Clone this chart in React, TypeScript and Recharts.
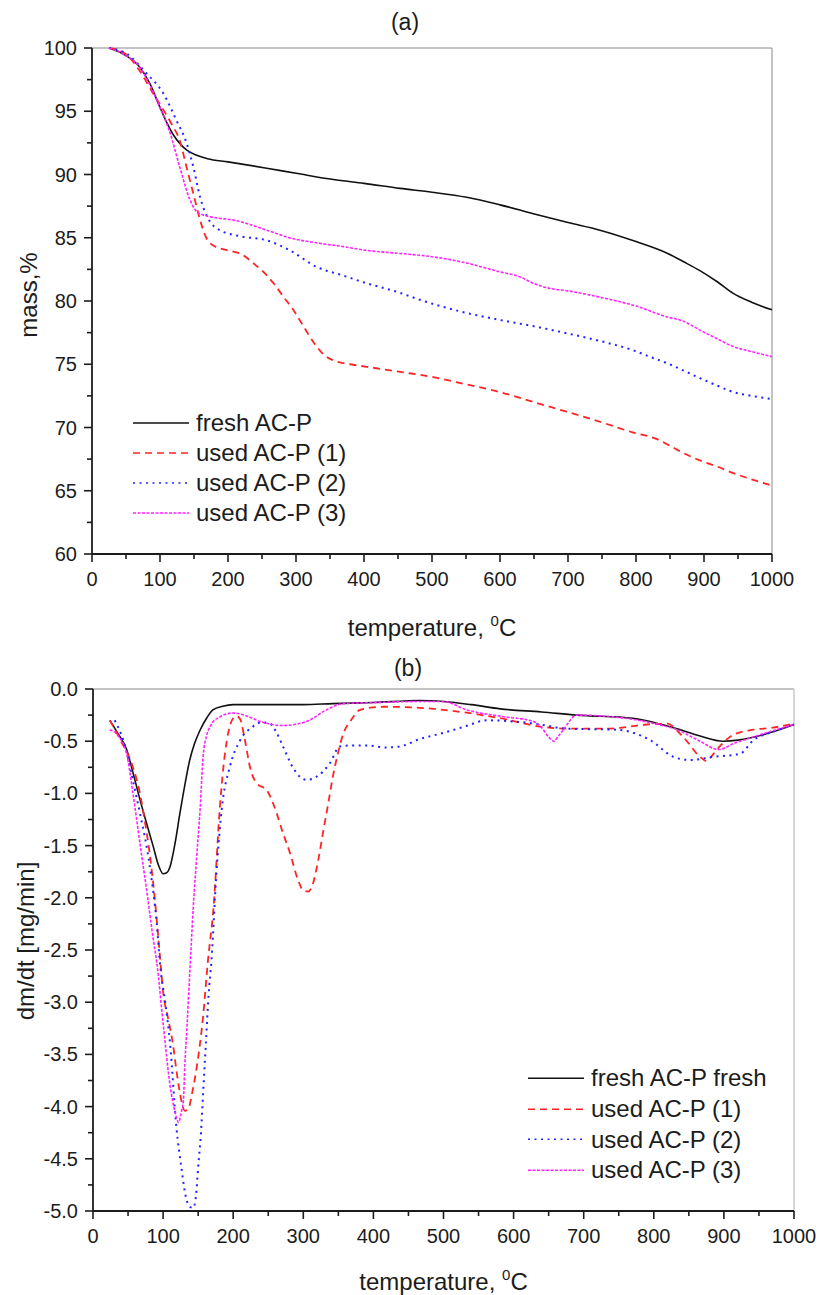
import { LineChart, Line, XAxis, YAxis, ReferenceLine, Legend, Label } from "recharts";

type Pt = [number, number];

// ---- (a) mass loss, % ----
const freshTga: Pt[] = [
  [25, 100], [50, 99.4], [70, 98.5], [85, 97.2], [100, 95.3], [110, 94.1], [120, 93.1], [130, 92.4],
  [140, 91.9], [155, 91.5], [170, 91.25], [200, 91.0], [257, 90.5], [300, 90.1], [355, 89.6], [400, 89.3],
  [453, 88.9], [500, 88.6], [551, 88.2], [600, 87.6], [649, 86.9], [700, 86.2], [747, 85.6], [800, 84.7],
  [845, 83.8], [870, 83.1], [894, 82.4], [920, 81.5], [943, 80.6], [970, 79.9], [1000, 79.3],
];
const used1Tga: Pt[] = [
  [25, 100], [50, 99.5], [70, 98.2], [90, 96.4], [105, 95.1], [118, 93.9], [129, 92.7], [139, 90.6],
  [149, 88.5], [159, 86.4], [168, 85.0], [178, 84.4], [200, 84.0], [220, 83.7], [237, 83.0], [252, 82.3],
  [267, 81.4], [282, 80.3], [296, 79.3], [311, 78.0], [325, 76.8], [340, 75.8], [355, 75.3], [380, 75.0],
  [404, 74.8], [453, 74.4], [500, 74.0], [551, 73.4], [600, 72.8], [650, 72.0], [698, 71.25], [750, 70.4],
  [796, 69.6], [830, 69.1], [845, 68.7], [869, 68.0], [894, 67.4], [920, 66.9], [943, 66.4], [970, 65.9],
  [1000, 65.4],
];
const used2Tga: Pt[] = [
  [25, 100], [51, 99.55], [80, 98.0], [105, 96.4], [124, 94.3], [139, 92.5], [149, 90.6], [159, 88.2],
  [169, 86.7], [188, 85.6], [220, 85.1], [257, 84.8], [291, 84.0], [330, 82.7], [370, 82.0], [404, 81.4],
  [450, 80.7], [482, 80.1], [540, 79.2], [600, 78.5], [650, 78.0], [698, 77.45], [750, 76.8], [796, 76.1],
  [820, 75.6], [845, 75.1], [870, 74.5], [894, 73.9], [920, 73.3], [943, 72.8], [970, 72.5], [1000, 72.25],
];
const used3Tga: Pt[] = [
  [25, 100], [50, 99.4], [70, 98.5], [85, 97.1], [100, 95.3], [115, 93.25], [129, 90.6], [144, 88.0],
  [152, 87.2], [159, 86.9], [180, 86.6], [208, 86.4], [257, 85.6], [290, 85.0], [330, 84.6], [370, 84.3],
  [404, 84.0], [453, 83.76], [500, 83.5], [551, 83.0], [600, 82.3], [630, 81.9], [649, 81.4], [673, 81.0],
  [700, 80.8], [747, 80.3], [800, 79.6], [845, 78.75], [870, 78.4], [894, 77.7], [920, 77.0], [943, 76.4],
  [970, 76.0], [1000, 75.6],
];

// ---- (b) dm/dt, mg/min ----
const freshDtg: Pt[] = [
  [24, -0.3], [35, -0.42], [48, -0.58], [57, -0.8], [67, -1.06], [77, -1.3], [86, -1.51], [93, -1.68],
  [100, -1.77], [105, -1.76], [110, -1.7], [117, -1.48], [124, -1.19], [131, -0.92], [138, -0.68],
  [145, -0.52], [153, -0.39], [162, -0.28], [171, -0.2], [185, -0.165], [200, -0.15], [250, -0.15],
  [300, -0.15], [342, -0.14], [400, -0.13], [466, -0.11], [500, -0.12], [540, -0.15], [581, -0.19],
  [640, -0.22], [690, -0.25], [770, -0.28], [800, -0.32], [833, -0.38], [866, -0.45], [899, -0.5],
  [920, -0.49], [937, -0.47], [970, -0.41], [1000, -0.34],
];
const used1Dtg: Pt[] = [
  [24, -0.3], [40, -0.5], [57, -0.75], [67, -1.0], [72, -1.19], [81, -1.58], [88, -2.0], [96, -2.6],
  [100, -2.9], [107, -3.15], [114, -3.4], [120, -3.7], [126, -3.94], [131, -4.04], [136, -4.02],
  [142, -3.85], [148, -3.62], [157, -3.14], [164, -2.6], [172, -2.09], [181, -1.13], [186, -0.75],
  [191, -0.49], [200, -0.28], [205, -0.26], [210, -0.29], [217, -0.5], [224, -0.75], [233, -0.9],
  [248, -0.97], [262, -1.19], [271, -1.38], [281, -1.57], [292, -1.82], [300, -1.93], [307, -1.94],
  [314, -1.86], [321, -1.65], [328, -1.38], [336, -1.08], [343, -0.81], [350, -0.6], [357, -0.43],
  [368, -0.3], [381, -0.2], [414, -0.17], [466, -0.18], [500, -0.2], [581, -0.28], [638, -0.36],
  [676, -0.38], [733, -0.38], [790, -0.34], [818, -0.33], [842, -0.46], [866, -0.65], [875, -0.69],
  [884, -0.63], [894, -0.55], [913, -0.44], [942, -0.39], [970, -0.37], [1000, -0.33],
];
const used2Dtg: Pt[] = [
  [31, -0.3], [48, -0.6], [57, -0.88], [67, -1.19], [81, -1.7], [91, -2.25], [96, -2.66], [103, -3.0],
  [110, -3.4], [119, -4.2], [126, -4.58], [132, -4.85], [138, -4.96], [143, -4.97], [147, -4.85],
  [150, -4.58], [154, -4.25], [157, -3.88], [161, -3.4], [165, -2.92], [169, -2.6], [176, -1.77],
  [184, -1.13], [195, -0.75], [210, -0.49], [228, -0.36], [240, -0.32], [252, -0.33], [262, -0.42],
  [271, -0.55], [285, -0.75], [295, -0.84], [305, -0.87], [319, -0.84], [338, -0.71], [352, -0.55],
  [371, -0.54], [390, -0.54], [419, -0.56], [438, -0.55], [466, -0.48], [500, -0.42], [530, -0.36],
  [562, -0.3], [628, -0.33], [676, -0.38], [747, -0.39], [795, -0.49], [828, -0.65], [851, -0.68],
  [885, -0.65], [923, -0.62], [942, -0.49], [970, -0.41], [1000, -0.34],
];
const used3Dtg: Pt[] = [
  [24, -0.39], [36, -0.45], [48, -0.62], [57, -1.0], [67, -1.48], [77, -1.95], [86, -2.4], [91, -2.62],
  [100, -3.2], [110, -3.8], [117, -4.05], [122, -4.15], [126, -4.05], [129, -3.94], [131, -3.6],
  [134, -3.24], [139, -2.6], [143, -2.09], [148, -1.6], [153, -1.13], [157, -0.65], [162, -0.45],
  [167, -0.36], [180, -0.27], [200, -0.23], [220, -0.26], [238, -0.31], [271, -0.35], [305, -0.31],
  [333, -0.2], [357, -0.14], [400, -0.13], [466, -0.12], [500, -0.12], [533, -0.2], [580, -0.26],
  [628, -0.31], [640, -0.37], [650, -0.46], [657, -0.5], [664, -0.45], [671, -0.39], [690, -0.25],
  [747, -0.27], [800, -0.33], [833, -0.39], [866, -0.5], [892, -0.58], [915, -0.52], [937, -0.47],
  [970, -0.4], [1000, -0.34],
];

const tempTicks = [
  0, 50, 100, 150, 200, 250, 300, 350, 400, 450, 500, 550, 600, 650, 700, 750, 800, 850, 900, 950, 1000,
];
const massTicks = [60, 62.5, 65, 67.5, 70, 72.5, 75, 77.5, 80, 82.5, 85, 87.5, 90, 92.5, 95, 97.5, 100];
const dtgTicks = [
  -5, -4.75, -4.5, -4.25, -4, -3.75, -3.5, -3.25, -3, -2.75, -2.5, -2.25, -2, -1.75, -1.5, -1.25, -1,
  -0.75, -0.5, -0.25, 0,
];

const namesA = ["fresh AC-P", "used AC-P (1)", "used AC-P (2)", "used AC-P (3)"];
const namesB = ["fresh AC-P fresh", "used AC-P (1)", "used AC-P (2)", "used AC-P (3)"];

const styles = [
  { color: "#111111", dash: undefined as string | undefined, width: 1.6 },
  { color: "#ff2424", dash: "7 5", width: 1.8 },
  { color: "#2222ff", dash: "2 4.5", width: 2 },
  { color: "#ff22ff", dash: "3 1.5", width: 1.6 },
];

const FONT = "'Liberation Sans', Arial, sans-serif";
const INK = "#1c1c1c";

const toRows = (pts: Pt[]) => pts.map(([t, v]) => ({ t, v }));
const isMult = (v: number, step: number) => Math.abs(v / step - Math.round(v / step)) < 1e-6;

function XTick(props: any) {
  const { x, y, payload } = props;
  const major = isMult(payload.value, 100);
  return (
    <g>
      <line x1={x} y1={y} x2={x} y2={y + (major ? 8 : 5)} stroke={INK} strokeWidth={1.6} />
      {major && (
        <text x={x} y={y + 32} textAnchor="middle" fontSize={20} fill={INK} fontFamily={FONT}>
          {payload.value}
        </text>
      )}
    </g>
  );
}

function makeYTick(step: number, fmt: (v: number) => string) {
  return (props: any) => {
    const { x, y, payload } = props;
    const major = isMult(payload.value, step);
    return (
      <g>
        <line x1={x} y1={y} x2={x - (major ? 8 : 5)} y2={y} stroke={INK} strokeWidth={1.6} />
        {major && (
          <text x={x - 15} y={y + 7} textAnchor="end" fontSize={20} fill={INK} fontFamily={FONT}>
            {fmt(payload.value)}
          </text>
        )}
      </g>
    );
  };
}

function xTitle(dy: number) {
  return (props: any) => {
    const vb = props.viewBox;
    return (
      <text x={vb.x + vb.width / 2} y={vb.y + dy} textAnchor="middle" fontSize={24} fill={INK} fontFamily={FONT}>
        temperature,{" "}
        <tspan fontSize={15} dy={-10}>0</tspan>
        <tspan dy={10}>C</tspan>
      </text>
    );
  };
}

function yTitle(text: string, dx: number, dy: number) {
  return (props: any) => {
    const vb = props.viewBox;
    const cx = vb.x + vb.width - dx;
    const cy = vb.y + vb.height / 2 + dy;
    return (
      <text
        x={cx}
        y={cy}
        transform={`rotate(-90 ${cx} ${cy})`}
        textAnchor="middle"
        dominantBaseline="central"
        fontSize={24}
        fill={INK}
        fontFamily={FONT}
      >
        {text}
      </text>
    );
  };
}

function LegendBox({ names, rowH }: { names: string[]; rowH: number }) {
  return (
    <div style={{ fontFamily: FONT, fontSize: 24, color: INK }}>
      {names.map((n, i) => (
        <div key={n} style={{ display: "flex", alignItems: "center", height: rowH }}>
          <svg width={56} height={rowH}>
            <line
              x1={0}
              y1={rowH / 2}
              x2={56}
              y2={rowH / 2}
              stroke={styles[i].color}
              strokeWidth={1.5}
              strokeDasharray={styles[i].dash}
            />
          </svg>
          <span style={{ marginLeft: 7, whiteSpace: "nowrap" }}>{n}</span>
        </div>
      ))}
    </div>
  );
}

const axisLine = { stroke: INK, strokeWidth: 1.8 };

export default function App() {
  const tga = [freshTga, used1Tga, used2Tga, used3Tga];
  const dtg = [freshDtg, used1Dtg, used2Dtg, used3Dtg];

  return (
    <div
      style={{
        position: "absolute",
        left: 0,
        top: 0,
        width: 819,
        height: 1295,
        background: "#fff",
        fontFamily: FONT,
      }}
    >
      <div style={{ position: "absolute", left: 355, top: 9, width: 100, textAlign: "center", fontSize: 23, color: INK }}>
        (a)
      </div>
      <div style={{ position: "absolute", left: 0, top: 0 }}>
        <LineChart width={819} height={650} margin={{ top: 48, right: 47, left: 32, bottom: 6 }}>
          <XAxis
            type="number"
            dataKey="t"
            domain={[0, 1000]}
            ticks={tempTicks}
            interval={0}
            height={90}
            tickSize={0}
            tickMargin={0}
            tickLine={false}
            axisLine={axisLine}
            tick={<XTick />}
          >
            <Label content={xTitle(82)} />
          </XAxis>
          <YAxis
            type="number"
            domain={[60, 100]}
            ticks={massTicks}
            interval={0}
            width={60}
            tickSize={0}
            tickMargin={0}
            tickLine={false}
            axisLine={axisLine}
            tick={makeYTick(5, (v) => String(v))}
          >
            <Label content={yTitle("mass,%", 64, -6)} />
          </YAxis>
          <ReferenceLine y={100} stroke="#b0b0b0" strokeWidth={1.5} />
          <ReferenceLine x={1000} stroke="#b0b0b0" strokeWidth={1.5} />
          {tga.map((pts, i) => (
            <Line
              key={namesA[i]}
              name={namesA[i]}
              data={toRows(pts)}
              dataKey="v"
              type="monotone"
              stroke={styles[i].color}
              strokeWidth={styles[i].width}
              strokeDasharray={styles[i].dash}
              dot={false}
              activeDot={false}
              isAnimationActive={false}
            />
          ))}
          <Legend
            layout="vertical"
            align="center"
            verticalAlign="middle"
            wrapperStyle={{ left: 133, top: 408, width: "auto" }}
            content={() => <LegendBox names={namesA} rowH={30} />}
          />
        </LineChart>
      </div>

      <div style={{ position: "absolute", left: 358, top: 655, width: 100, textAlign: "center", fontSize: 23, color: INK }}>
        (b)
      </div>
      <div style={{ position: "absolute", left: 0, top: 650 }}>
        <LineChart width={819} height={645} margin={{ top: 39, right: 25, left: 33, bottom: 0 }}>
          <XAxis
            type="number"
            dataKey="t"
            domain={[0, 1000]}
            ticks={tempTicks}
            interval={0}
            height={84}
            tickSize={0}
            tickMargin={0}
            tickLine={false}
            axisLine={axisLine}
            tick={<XTick />}
          >
            <Label content={xTitle(79)} />
          </XAxis>
          <YAxis
            type="number"
            domain={[-5, 0]}
            ticks={dtgTicks}
            interval={0}
            width={60}
            tickSize={0}
            tickMargin={0}
            tickLine={false}
            axisLine={axisLine}
            tick={makeYTick(0.5, (v) => v.toFixed(1))}
          >
            <Label content={yTitle("dm/dt [mg/min]", 68, -9)} />
          </YAxis>
          <ReferenceLine y={0} stroke="#b0b0b0" strokeWidth={1.5} />
          <ReferenceLine x={1000} stroke="#c8c8c8" strokeWidth={1.5} />
          {dtg.map((pts, i) => (
            <Line
              key={namesB[i]}
              name={namesB[i]}
              data={toRows(pts)}
              dataKey="v"
              type="monotone"
              stroke={styles[i].color}
              strokeWidth={styles[i].width}
              strokeDasharray={styles[i].dash}
              dot={false}
              activeDot={false}
              isAnimationActive={false}
            />
          ))}
          <Legend
            layout="vertical"
            align="center"
            verticalAlign="middle"
            wrapperStyle={{ left: 528, top: 413, width: "auto" }}
            content={() => <LegendBox names={namesB} rowH={30.7} />}
          />
        </LineChart>
      </div>
    </div>
  );
}
